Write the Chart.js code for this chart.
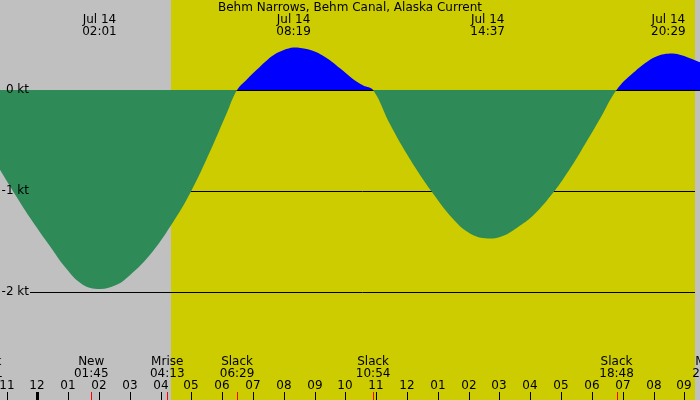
<!DOCTYPE html>
<html><head><meta charset="utf-8">
<script src="https://cdn.jsdelivr.net/npm/chart.js@4/dist/chart.umd.min.js"></script>
<style>html,body{margin:0;padding:0;background:#c0c0c0;overflow:hidden}canvas{display:block}</style>
</head><body>
<canvas id="c" width="700" height="400"></canvas>
<script>
// ---- data (hours since midnight Jul 14; knots) ----
const title = "Behm Narrows, Behm Canal, Alaska Current";
const hours = [-1.211,-0.70,-0.182,0.417,0.917,1.467,2.017,2.517,2.902,3.659,4.340,4.979,5.605,6.147,6.483,
  6.80,7.121,7.40,7.66,8.00,8.317,8.60,8.958,9.40,9.825,10.20,10.581,10.900,
  11.448,12.097,12.833,13.502,14.044,14.617,15.10,15.56,16.10,16.748,17.18,17.614,18.263,18.800,
  19.344,19.886,20.20,20.483,20.85,21.184,21.509];
const knots = [-0.79,-1.045,-1.29,-1.55,-1.76,-1.925,-1.97,-1.935,-1.86,-1.63,-1.34,-1.01,-0.61,-0.23,0,
  0.105,0.20,0.28,0.345,0.395,0.42,0.413,0.385,0.315,0.215,0.12,0.045,0,
  -0.34,-0.685,-1.02,-1.28,-1.42,-1.47,-1.445,-1.365,-1.24,-1.015,-0.83,-0.62,-0.285,0,
  0.17,0.30,0.345,0.36,0.35,0.315,0.275];
const peakTimes = [2.017, 8.317, 14.617, 20.483];
const peakDates = ["Jul 14","Jul 14","Jul 14","Jul 14"];
const peakClock = ["02:01","08:19","14:37","20:29"];
const eventTimes = [-1.68, 1.75, 4.217, 6.483, 10.9, 18.8, 21.817];
const eventNames = ["Slack","New","Mrise","Slack","Slack","Slack","Mset"];
const eventClock = ["22:21","01:45","04:13","06:29","10:54","18:48","21:49"];
const hourTicks = [-1,0,1,2,3,4,5,6,7,8,9,10,11,12,13,14,15,16,17,18,19,20,21];
const hourTickLabels = ["11","12","01","02","03","04","05","06","07","08","09","10","11","12","01","02","03","04","05","06","07","08","09"];
const knotLevels = [0,-1,-2];
const knotLabels = ["0 kt","-1 kt","-2 kt"];
const sunrise = 4.34, sunset = 21.35;
const xRange = [-1.211, 21.509];
const yRange = [-3.069, 0.891];

const FONT = '12px "DejaVu Sans"';

const decor = {
  id: 'decor',
  beforeDraw(chart) {
    const {ctx, scales:{x}} = chart;
    ctx.save();
    ctx.fillStyle = '#c0c0c0';
    ctx.fillRect(0,0,chart.width,chart.height);
    ctx.fillStyle = '#cccc00';
    const a = x.getPixelForValue(sunrise), b = x.getPixelForValue(sunset);
    ctx.fillRect(Math.round(a),0,Math.round(b)-Math.round(a),chart.height);
    ctx.restore();
  },
  beforeDatasetsDraw(chart) {
    const {ctx, scales:{x,y}} = chart;
    ctx.save();
    ctx.strokeStyle = '#000';
    ctx.lineWidth = 1;
    knotLevels.forEach((k,i) => {
      const py = Math.round(y.getPixelForValue(k)) + 0.5;
      ctx.beginPath();
      ctx.moveTo(k === 0 ? 0 : 30, py);
      ctx.lineTo(k === 0 ? chart.width : Math.round(x.getPixelForValue(sunset)), py);
      ctx.stroke();
    });
    ctx.restore();
  },
  afterDatasetsDraw(chart) {
    const {ctx, scales:{x,y}} = chart;
    ctx.save();
    ctx.font = FONT;
    ctx.fillStyle = '#000';
    ctx.textBaseline = 'middle';
    ctx.textAlign = 'right';
    knotLevels.forEach((k,i) => ctx.fillText(knotLabels[i], 29, y.getPixelForValue(k)));
    ctx.textAlign = 'center';
    ctx.fillText(title, 350, 8);
    peakTimes.forEach((t,i) => {
      const px = x.getPixelForValue(t);
      ctx.fillText(peakDates[i], px, 20);
      ctx.fillText(peakClock[i], px, 31.5);
    });
    eventTimes.forEach((t,i) => {
      const px = x.getPixelForValue(t);
      ctx.fillText(eventNames[i], px, 362);
      ctx.fillText(eventClock[i], px, 374);
    });
    hourTicks.forEach((h,i) => {
      const px = Math.round(x.getPixelForValue(h));
      ctx.fillText(hourTickLabels[i], px, 386);
      if (h === 0) ctx.fillRect(px-1, 392, 3, 8);
      else ctx.fillRect(px, 392, 1, 8);
    });
    ctx.fillStyle = '#ff0000';
    eventTimes.forEach(t => {
      const px = Math.round(x.getPixelForValue(t));
      ctx.fillRect(px, 392, 1, 8);
    });
    ctx.restore();
  }
};

new Chart(document.getElementById('c'), {
  type: 'line',
  data: {
    datasets: [{
      data: hours.map((h,i) => ({x:h, y:knots[i]})),
      borderWidth: 0,
      borderColor: 'rgba(0,0,0,0)',
      pointRadius: 0,
      tension: 0.4,
      fill: {target: 'origin', above: '#0000ff', below: '#2e8b57'}
    }]
  },
  options: {
    responsive: false,
    animation: false,
    devicePixelRatio: 1,
    events: [],
    layout: {padding: 0},
    scales: {
      x: {type: 'linear', min: xRange[0], max: xRange[1], display: false},
      y: {type: 'linear', min: yRange[0], max: yRange[1], display: false}
    },
    plugins: {legend: {display: false}, tooltip: {enabled: false}}
  },
  plugins: [decor]
});
</script>
</body></html>
